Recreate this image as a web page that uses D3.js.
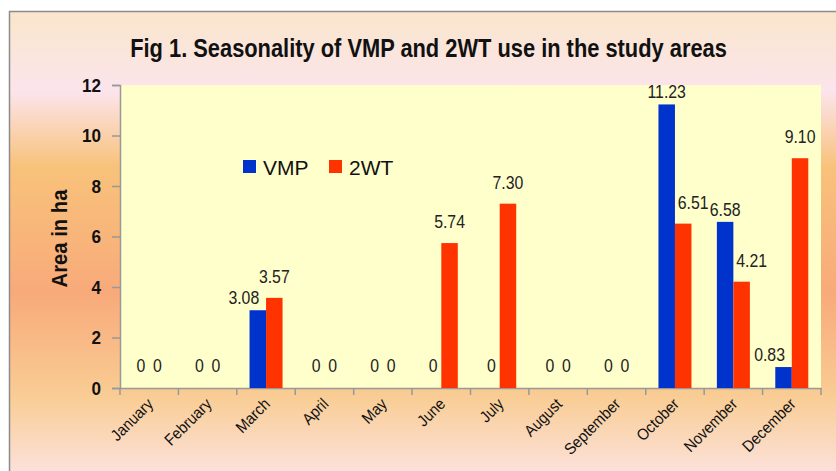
<!DOCTYPE html>
<html>
<head>
<meta charset="utf-8">
<script src="https://cdn.jsdelivr.net/npm/d3@7"></script>
<style>
html,body{margin:0;padding:0;background:#fff;}
svg{display:block;}
</style>
</head>
<body>
<div id="chart"></div>
<script>
const months = ["January","February","March","April","May","June","July","August","September","October","November","December"];
const seriesNames = ["VMP","2WT"];
const vmpValues = [0,0,3.08,0,0,0,0,0,0,11.23,6.58,0.83];
const twtValues = [0,0,3.57,0,0,5.74,7.30,0,0,6.51,4.21,9.10];
const yTicks = [0,2,4,6,8,10,12];
const titleText = "Fig 1. Seasonality of VMP and 2WT use in the study areas";
const yLabel = "Area in ha";
const colors = {"VMP":"#0033CC","2WT":"#FF3300"};

const W = 836, H = 471;
const FONT = "'Liberation Sans',Arial,sans-serif";
const svg = d3.select("#chart").append("svg").attr("width", W).attr("height", H);

const defs = svg.append("defs");
const grad = defs.append("linearGradient").attr("id","bg").attr("x1",0).attr("y1",0).attr("x2",0).attr("y2",1);
[[0,"#F9E6CB"],[0.17,"#FCE4EC"],[0.33,"#F8C27A"],[0.6,"#F8AA7A"],[0.82,"#F9CD95"],[1,"#FCE4E4"]]
  .forEach(([o,c]) => grad.append("stop").attr("offset",o).attr("stop-color",c));

svg.append("rect").attr("x",9.5).attr("y",11.5).attr("width",W).attr("height",H)
  .attr("fill","url(#bg)").attr("stroke","#8c8c8c").attr("stroke-width",1.5);

const m = {left:120, top:85, right:821, bottom:388};
const x0 = d3.scaleBand().domain(months).range([m.left, m.right]).paddingInner(0).paddingOuter(0);
const groupW = x0.bandwidth() * 0.565;
const x1 = d3.scaleBand().domain(seriesNames).range([0, groupW]);
const y = d3.scaleLinear().domain([0,12]).range([m.bottom, m.top]);

svg.append("rect").attr("x",m.left).attr("y",m.top).attr("width",m.right-m.left).attr("height",m.bottom-m.top).attr("fill","#FFFFCC");

// title (scaled horizontally to mimic a narrow bold face)
const title = svg.append("text").attr("x",0).attr("y",0).attr("text-anchor","middle")
  .attr("font-family",FONT)
  .attr("font-weight","bold").attr("font-size",26).attr("fill","#111")
  .text(titleText);
const tw = title.node().getComputedTextLength();
title.attr("transform",`translate(428.5,57) scale(${597/tw},1)`);

// y axis
const yAxis = d3.axisLeft(y).tickValues(yTicks).tickSize(8).tickPadding(6).tickFormat(d3.format("d"));
const gy = svg.append("g").attr("transform",`translate(${m.left},0)`).call(yAxis);
gy.select(".domain").attr("stroke","#999").attr("stroke-width",1.5);
gy.selectAll(".tick line").attr("stroke","#999").attr("stroke-width",1.5);
gy.selectAll(".tick text").attr("font-family",FONT)
  .attr("font-weight","bold").attr("font-size",19).attr("fill","#111")
  .attr("x",0).attr("transform","translate(-19,0) scale(0.9,1)");

svg.append("text").attr("transform",`translate(67,${(m.top+m.bottom)/2+2}) rotate(-90) scale(0.92,1)`)
  .attr("text-anchor","middle").attr("font-family",FONT)
  .attr("font-weight","bold").attr("font-size",22).attr("fill","#111").text(yLabel);

// x axis
const xAxis = d3.axisBottom(x0).tickSize(0).tickFormat("");
const gx = svg.append("g").attr("transform",`translate(0,${m.bottom})`).call(xAxis);
gx.select(".domain").attr("stroke","#999").attr("stroke-width",1.5);
const bounds = months.map(d => x0(d)).concat([m.right]);
svg.append("g").selectAll("line").data(bounds).join("line")
  .attr("x1",d=>d).attr("x2",d=>d).attr("y1",m.bottom).attr("y2",m.bottom+7)
  .attr("stroke","#999").attr("stroke-width",1.5);

svg.append("g").selectAll("text").data(months).join("text")
  .attr("transform",d=>`translate(${x0(d)+x0.bandwidth()/2+5},${m.bottom+17}) rotate(-45) scale(0.92,1)`)
  .attr("text-anchor","end").attr("font-family",FONT)
  .attr("font-size",16).attr("fill","#111").text(d=>d);

// bars
const data = months.map((mo,i) => ({month:mo, vals:[{s:"VMP",v:vmpValues[i],o:twtValues[i]},{s:"2WT",v:twtValues[i],o:vmpValues[i]}]}));
const groups = svg.append("g").selectAll("g").data(data).join("g")
  .attr("transform",d=>`translate(${x0(d.month)+(x0.bandwidth()-groupW)/2},0)`);
groups.selectAll("rect").data(d=>d.vals).join("rect")
  .attr("x",d=>x1(d.s)).attr("width",x1.bandwidth())
  .attr("y",d=>y(d.v)).attr("height",d=>m.bottom-y(d.v))
  .attr("fill",d=>colors[d.s]);
// labels: nudge sideways when the neighbouring bar is taller, to avoid overlap
groups.selectAll("text").data(d=>d.vals).join("text")
  .attr("transform",d=>{
    let lx = x1(d.s)+x1.bandwidth()/2;
    const gap = d.v===0 ? 16 : (d.s==="VMP" ? 6 : 15);
    if (d.v>0 && d.o>d.v) lx += d.s==="VMP" ? -14 : 10;
    return `translate(${lx},${y(d.v)-gap}) scale(0.88,1)`;
  })
  .attr("text-anchor","middle").attr("font-family",FONT)
  .attr("font-size",18).attr("fill","#222")
  .text(d=>d.v===0 ? "0" : d3.format(".2f")(d.v));

// legend
const legend = svg.append("g").attr("transform","translate(243,160)");
seriesNames.forEach((s,i) => {
  const g = legend.append("g").attr("transform",`translate(${i*86},0)`);
  g.append("rect").attr("width",13).attr("height",13).attr("fill",colors[s]);
  g.append("text").attr("x",20).attr("y",15).attr("font-family",FONT)
    .attr("font-size",21).attr("fill","#111").text(s);
});
</script>
</body>
</html>
